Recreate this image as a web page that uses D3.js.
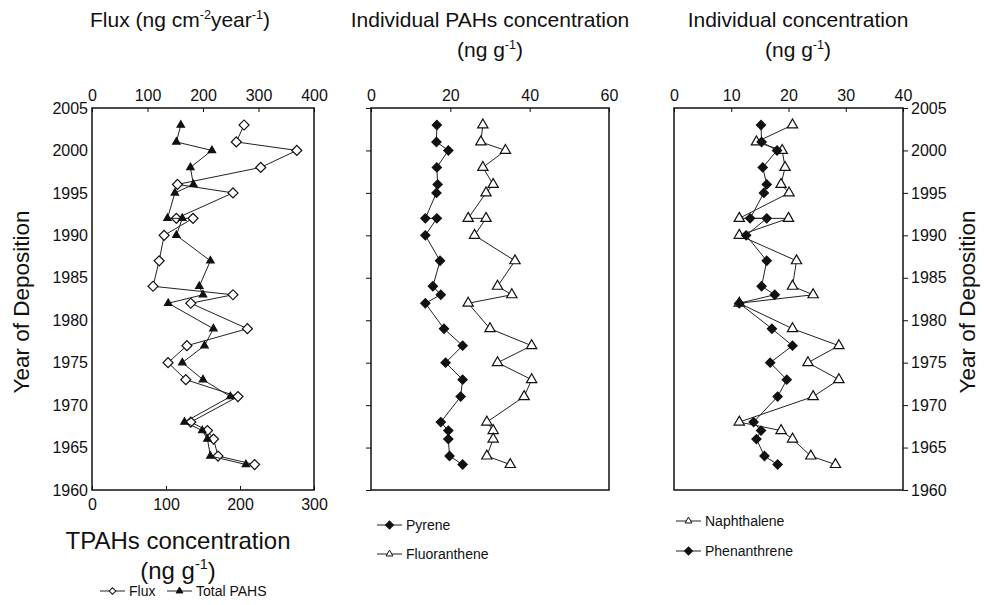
<!DOCTYPE html>
<html lang="en">
  <head>
    <meta charset="UTF-8">
    <script src="https://cdn.jsdelivr.net/npm/d3@7"></script>
    <title>PAH core profiles</title>
    <style>
      body { margin: 0; background: #fff; }
      text { font-family: "Liberation Sans", Arial, sans-serif; fill: #111; }
    </style>
  </head>
  <body>
    <script>
      let w = 984;
      let h = 605;

      // sampling years (two samples in 1992)
      let years = [2003, 2001, 2000, 1998, 1996, 1995, 1992, 1992, 1990, 1987, 1984,
                   1983, 1982, 1979, 1977, 1975, 1973, 1971, 1968, 1967, 1966, 1964, 1963];

      // panel 1
      let flux = [274, 260, 369, 304, 154, 254, 152, 182, 130, 121, 110,
                  254, 178, 280, 171, 137, 169, 263, 178, 208, 219, 227, 293];
      let totalPahs = [120, 114, 162, 133, 137, 112, 102, 122, 114, 160, 145,
                       150, 103, 164, 152, 122, 150, 187, 125, 149, 156, 160, 208];

      // panel 2
      let pyrene = [16.6, 16.5, 19.5, 16.6, 16.8, 16.5, 13.7, 16.6, 13.7, 17.4, 15.6,
                    17.6, 13.7, 18.4, 23.1, 18.8, 23.1, 22.6, 17.6, 19.5, 19.5, 19.8, 23.1];
      let fluoranthene = [28.2, 27.7, 33.9, 28.2, 30.8, 29.0, 24.5, 29.0, 26.1, 36.3, 31.9,
                          35.5, 24.5, 30.0, 40.5, 31.9, 40.5, 38.6, 29.2, 30.8, 30.8, 29.2, 35.1];

      // panel 3
      let naphthalene = [20.7, 14.4, 18.9, 19.4, 18.7, 20.1, 11.4, 20.0, 11.4, 21.4, 20.7,
                         24.3, 11.4, 20.7, 28.8, 23.4, 28.8, 24.3, 11.4, 18.7, 20.7, 23.9, 28.2];
      let phenanthrene = [15.2, 15.3, 18.0, 15.5, 16.2, 15.7, 13.3, 16.2, 12.6, 16.2, 15.3,
                          17.6, 11.4, 17.1, 20.7, 16.8, 19.7, 18.1, 13.9, 15.2, 14.4, 15.8, 18.1];

      let yearTicks = [1960, 1965, 1970, 1975, 1980, 1985, 1990, 1995, 2000, 2005];
      let fluxTicks = [0, 100, 200, 300, 400];
      let tpahTicks = [0, 100, 200, 300];
      let p2Ticks = [0, 20, 40, 60];
      let p3Ticks = [0, 10, 20, 30, 40];

      let plotTop = 108, plotBottom = 490;

      let svg = d3.select('body')
                  .append('svg')
                  .attr('width', w)
                  .attr('height', h);

      let yScale = d3.scaleLinear().domain([1960, 2005]).range([plotBottom, plotTop]);

      let xFlux = d3.scaleLinear().domain([0, 400]).range([92, 314]);
      let xTpah = d3.scaleLinear().domain([0, 300]).range([92, 314]);
      let x2 = d3.scaleLinear().domain([0, 60]).range([371, 609]);
      let x3 = d3.scaleLinear().domain([0, 40]).range([674, 903]);

      let diamond = size => d3.symbol().type(d3.symbolSquare).size(size)();
      let triangle = size => d3.symbol().type(d3.symbolTriangle).size(size)();

      function styleAxis(g, fs) {
        g.select('.domain').remove();
        g.selectAll('.tick line').attr('stroke', '#111');
        g.selectAll('.tick text')
          .attr('font-size', fs)
          .attr('font-family', '"Liberation Sans", Arial, sans-serif')
          .attr('fill', '#111');
      }

      function box(x) {
        svg.append('rect')
          .attr('x', x.range()[0])
          .attr('y', plotTop)
          .attr('width', x.range()[1] - x.range()[0])
          .attr('height', plotBottom - plotTop)
          .attr('fill', 'none')
          .attr('stroke', '#111')
          .attr('stroke-width', 1.5);
      }

      function series(x, vals, marker, filled) {
        let pts = vals.map((v, i) => [x(v), yScale(years[i])]);
        svg.append('path')
          .attr('d', d3.line()(pts))
          .attr('fill', 'none')
          .attr('stroke', '#222')
          .attr('stroke-width', 1);
        svg.append('g').selectAll('path')
          .data(pts)
          .enter()
          .append('path')
          .attr('d', marker.d)
          .attr('transform', d => `translate(${d[0]},${d[1]}) rotate(${marker.rot})`)
          .attr('fill', filled ? '#111' : '#fff')
          .attr('stroke', '#111')
          .attr('stroke-width', 1.2);
      }

      let hollowDiamond = { d: diamond(50), rot: 45 };
      let smallTri = { d: triangle(24), rot: 0 };
      let fillDiamond = { d: diamond(42), rot: 45 };
      let bigTri = { d: triangle(46), rot: 0 };

      // ---- Panel 1 ----
      svg.append('g')
        .attr('transform', `translate(0,${plotTop})`)
        .call(d3.axisTop(xFlux).tickValues(fluxTicks).tickSizeInner(-4).tickSizeOuter(0).tickPadding(7))
        .call(g => styleAxis(g, 16));
      svg.append('g')
        .attr('transform', `translate(0,${plotBottom})`)
        .call(d3.axisBottom(xTpah).tickValues(tpahTicks).tickSizeInner(-4).tickSizeOuter(0).tickPadding(9))
        .call(g => styleAxis(g, 16));
      svg.append('g')
        .attr('transform', 'translate(92,0)')
        .call(d3.axisLeft(yScale).tickValues(yearTicks).tickFormat(d3.format('d')).tickSizeInner(0).tickSizeOuter(0).tickPadding(4))
        .call(g => styleAxis(g, 16));
      box(xFlux);
      series(xFlux, flux, hollowDiamond, false);
      series(xTpah, totalPahs, smallTri, true);

      // ---- Panel 2 ----
      svg.append('g')
        .attr('transform', `translate(0,${plotTop})`)
        .call(d3.axisTop(x2).tickValues(p2Ticks).tickSizeInner(-4).tickSizeOuter(0).tickPadding(7))
        .call(g => styleAxis(g, 16));
      svg.append('g')
        .attr('transform', 'translate(371,0)')
        .call(d3.axisLeft(yScale).tickValues(yearTicks).tickFormat('').tickSizeInner(5).tickSizeOuter(0))
        .call(g => styleAxis(g, 16));
      box(x2);
      series(x2, pyrene, fillDiamond, true);
      series(x2, fluoranthene, bigTri, false);

      // ---- Panel 3 ----
      svg.append('g')
        .attr('transform', `translate(0,${plotTop})`)
        .call(d3.axisTop(x3).tickValues(p3Ticks).tickSizeInner(-4).tickSizeOuter(0).tickPadding(7))
        .call(g => styleAxis(g, 16));
      svg.append('g')
        .attr('transform', 'translate(903,0)')
        .call(d3.axisRight(yScale).tickValues(yearTicks).tickFormat(d3.format('d')).tickSizeInner(5).tickSizeOuter(0).tickPadding(3))
        .call(g => styleAxis(g, 16));
      box(x3);
      series(x3, naphthalene, bigTri, false);
      series(x3, phenanthrene, fillDiamond, true);

      // ---- Titles ----
      function unitText(x, y, parts, fs) {
        let t = svg.append('text')
          .attr('x', x).attr('y', y)
          .attr('text-anchor', 'middle')
          .attr('font-size', fs);
        parts.forEach(p => {
          if (p.sup) {
            t.append('tspan').text(p.s)
              .attr('font-size', fs * 0.6)
              .attr('dy', -fs * 0.4);
          } else {
            let ts = t.append('tspan').text(p.s);
            if (p.after) ts.attr('dy', fs * 0.4);
          }
        });
        return t;
      }

      unitText(180, 27, [{ s: 'Flux (ng cm' }, { s: '-2', sup: true }, { s: 'year', after: true },
                         { s: '-1', sup: true }, { s: ')', after: true }], 21);
      unitText(490, 27, [{ s: 'Individual PAHs concentration' }], 21);
      unitText(490, 57, [{ s: '(ng g' }, { s: '-1', sup: true }, { s: ')', after: true }], 21);
      unitText(798, 27, [{ s: 'Individual concentration' }], 21);
      unitText(798, 57, [{ s: '(ng g' }, { s: '-1', sup: true }, { s: ')', after: true }], 21);

      unitText(178, 549, [{ s: 'TPAHs concentration' }], 24);
      unitText(178, 579, [{ s: '(ng g' }, { s: '-1', sup: true }, { s: ')', after: true }], 24);

      svg.append('text')
        .attr('transform', 'translate(29,302) rotate(-90)')
        .attr('text-anchor', 'middle')
        .attr('font-size', 22.5)
        .text('Year of Deposition');
      svg.append('text')
        .attr('transform', 'translate(975,302) rotate(-90)')
        .attr('text-anchor', 'middle')
        .attr('font-size', 22.5)
        .text('Year of Deposition');

      // ---- Legends ----
      function legendItem(x, y, marker, filled, label) {
        svg.append('line')
          .attr('x1', x).attr('x2', x + 25)
          .attr('y1', y).attr('y2', y)
          .attr('stroke', '#222').attr('stroke-width', 1);
        svg.append('path')
          .attr('d', marker.d)
          .attr('transform', `translate(${x + 12.5},${y}) rotate(${marker.rot})`)
          .attr('fill', filled ? '#111' : '#fff')
          .attr('stroke', '#111')
          .attr('stroke-width', 1);
        svg.append('text')
          .attr('x', x + 29).attr('y', y + 5)
          .attr('font-size', 14)
          .text(label);
      }

      let legDiamond = { d: diamond(22), rot: 45 };
      let legTri = { d: triangle(20), rot: 0 };

      legendItem(100, 591, legDiamond, false, 'Flux');
      legendItem(167, 591, legTri, true, 'Total PAHS');
      legendItem(377, 525, { d: diamond(32), rot: 45 }, true, 'Pyrene');
      legendItem(377, 554, legTri, false, 'Fluoranthene');
      legendItem(676, 521, legTri, false, 'Naphthalene');
      legendItem(676, 551, { d: diamond(32), rot: 45 }, true, 'Phenanthrene');
    </script>
  </body>
</html>
